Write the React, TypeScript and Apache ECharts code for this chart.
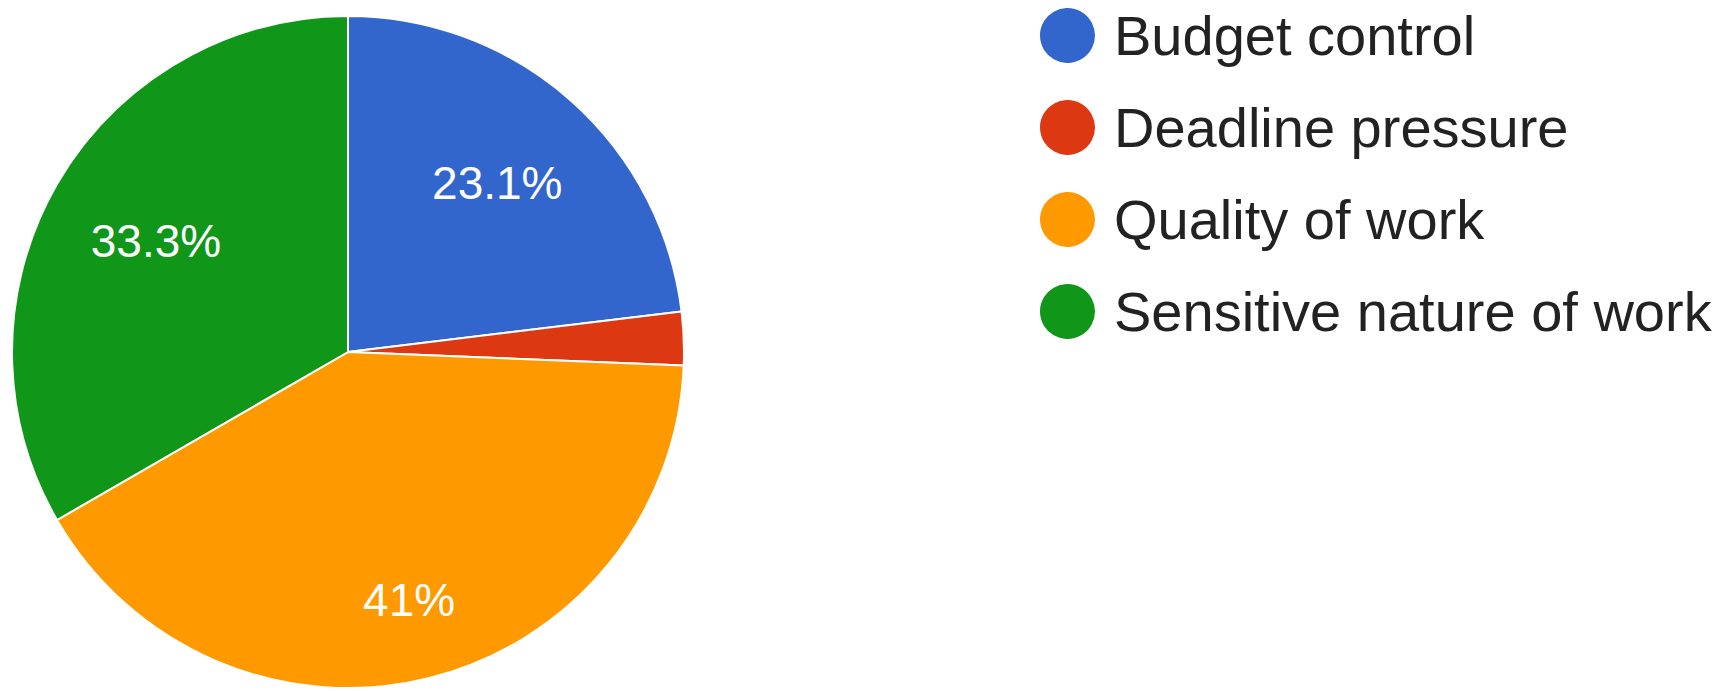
import React, { useEffect, useRef } from "react";
import * as echarts from "echarts";

const categories = ["Budget control", "Deadline pressure", "Quality of work", "Sensitive nature of work"];
const counts = [9, 1, 16, 13];
const colors = ["#3366cc", "#dc3912", "#ff9900", "#109618"];
const showLabel = [true, false, true, true];
const labelRadiusFrac = [0.67, 0.67, 0.76, 0.66];

const CX = 348;
const CY = 352;
const R = 336;

export default function App() {
  const ref = useRef<HTMLDivElement>(null);
  useEffect(() => {
    document.body.style.margin = "0";
    if (!ref.current) return;
    const chart = echarts.init(ref.current, undefined, { renderer: "svg" });
    const total = counts.reduce((a, b) => a + b, 0);
    chart.setOption({
      animation: false,
      backgroundColor: "#ffffff",
      color: colors,
      legend: {
        orient: "vertical",
        left: 1038,
        top: 6,
        padding: 0,
        itemWidth: 57,
        itemHeight: 57,
        itemGap: 33,
        icon: "circle",
        selectedMode: false,
        data: categories,
        textStyle: {
          fontFamily: "'Liberation Sans', Arial, sans-serif",
          fontSize: 56,
          lineHeight: 57,
          color: "#222222",
          padding: [0, 0, 0, 13],
        },
      },
      series: [
        {
          type: "pie",
          center: [CX, CY],
          radius: [0, R],
          startAngle: 90,
          clockwise: true,
          silent: true,
          itemStyle: { borderColor: "#ffffff", borderWidth: 2 },
          label: {
            show: true,
            position: "inside",
            color: "#ffffff",
            fontSize: 46,
            fontFamily: "'Liberation Sans', Arial, sans-serif",
            formatter: (p: any) => {
              const v = (p.value / total) * 100;
              const s = v.toFixed(1);
              return (s.endsWith(".0") ? s.slice(0, -2) : s) + "%";
            },
          },
          labelLine: { show: false },
          labelLayout: (params: any) => {
            const lr = params.labelRect;
            const lx = lr.x + lr.width / 2;
            const ly = lr.y + lr.height / 2;
            const dx = lx - CX;
            const dy = ly - CY;
            const d = Math.sqrt(dx * dx + dy * dy) || 1;
            const target = labelRadiusFrac[params.dataIndex] * R;
            return { x: CX + (dx / d) * target, y: CY + (dy / d) * target };
          },
          data: categories.map((name, i) => ({
            name,
            value: counts[i],
            label: { show: showLabel[i] },
          })),
        },
      ],
    });
    return () => chart.dispose();
  }, []);
  return <div ref={ref} style={{ width: 1721, height: 691 }} />;
}
